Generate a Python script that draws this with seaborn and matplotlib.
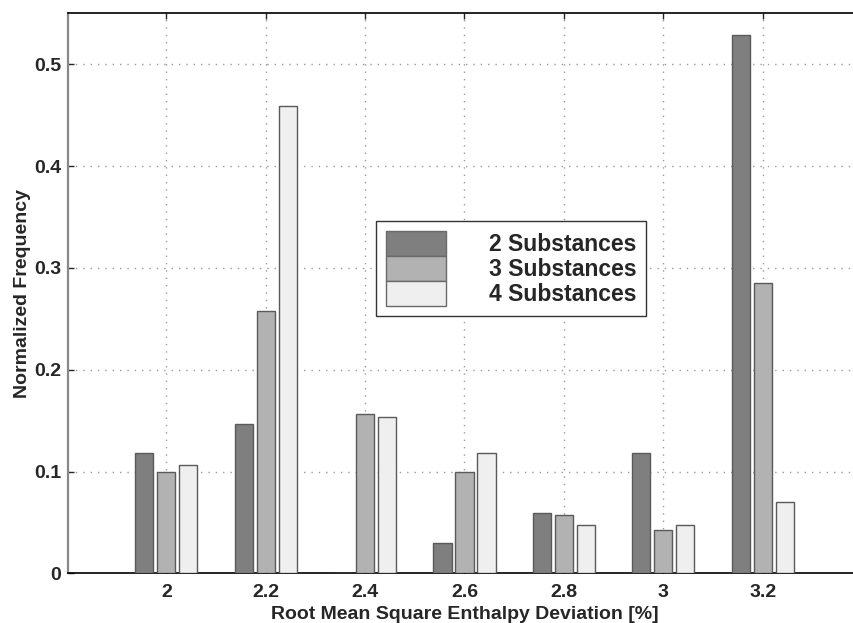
import pandas as pd
import matplotlib
matplotlib.use("Agg")
import matplotlib.pyplot as plt
import seaborn as sns
from matplotlib.patches import Patch

# rms enthalpy deviation bins [%]
deviation = ["2", "2.2", "2.4", "2.6", "2.8", "3", "3.2"]
series = ["2 Substances", "3 Substances", "4 Substances"]

# normalized frequency per bin
two_subst = [0.118, 0.147, 0.0, 0.0295, 0.059, 0.118, 0.529]
three_subst = [0.100, 0.258, 0.1565, 0.100, 0.057, 0.0425, 0.285]
four_subst = [0.106, 0.459, 0.1535, 0.118, 0.047, 0.047, 0.070]

colors = ["#7f7f7f", "#b2b2b2", "#efefef"]


def build_frame():
    rows = []
    for name, vals in zip(series, [two_subst, three_subst, four_subst]):
        for d, v in zip(deviation, vals):
            rows.append({"Deviation": d, "Series": name, "Frequency": v})
    return pd.DataFrame(rows)


def main():
    df = build_frame()

    sns.set_style("white")
    plt.rcParams['font.family'] = ['Liberation Sans', 'DejaVu Sans']
    plt.rcParams['font.weight'] = 'bold'

    fig = plt.figure(figsize=(8.54, 6.23), dpi=100)
    ax = fig.add_axes([68 / 854, 1 - 573.3 / 623, 793 / 854, 560.3 / 623])

    sns.barplot(
        data=df, x="Deviation", y="Frequency", hue="Series",
        order=deviation, hue_order=series, palette=colors,
        width=0.665, gap=0.18, edgecolor="#5a5a5a", linewidth=1.0,
        legend=False, ax=ax, zorder=3
    )

    ax.set_xlim(-0.99, 6.99)
    ax.set_ylim(0, 0.5505)
    ax.set_yticks([0, 0.1, 0.2, 0.3, 0.4, 0.5])
    ax.set_yticklabels(["0", "0.1", "0.2", "0.3", "0.4", "0.5"])
    ax.set_xticks(range(len(deviation)))
    ax.set_xticklabels(deviation)

    ax.grid(True, linestyle=(0, (1, 4.3)), color="#9a9a9a", linewidth=1)
    ax.set_axisbelow(True)

    ax.tick_params(axis="both", direction="in", length=4, width=1,
                   labelsize=14, top=True, left=True, bottom=True, right=False)
    ax.tick_params(axis="x", pad=8)
    ax.tick_params(axis="y", pad=5)

    for s in ["top", "bottom"]:
        ax.spines[s].set_color("black")
        ax.spines[s].set_linewidth(1.2)
    ax.spines["left"].set_color("#888888")
    ax.spines["left"].set_linewidth(1.6)
    ax.spines["right"].set_visible(False)

    ax.set_xlabel("Root Mean Square Enthalpy Deviation [%]", fontsize=14,
                  fontweight="bold", va="center")
    ax.xaxis.set_label_coords(0.5, -41 / 560.3)
    ax.set_ylabel("Normalized Frequency", fontsize=14, fontweight="bold",
                  va="center")
    ax.yaxis.set_label_coords(-45 / 793, 0.5)

    # stacked legend swatches, matlab style
    handles = [Patch(facecolor=c, edgecolor="#6a6a6a", linewidth=1) for c in colors]
    leg = ax.legend(
        handles, series, loc="upper left",
        bbox_to_anchor=(376 / 854, 1 - 221 / 623), bbox_transform=fig.transFigure,
        fontsize=16.5, frameon=True, fancybox=False, shadow=False,
        labelspacing=0, handlelength=2.65, handleheight=1.3,
        handletextpad=1.85, borderpad=0.42, borderaxespad=0
    )
    leg.get_frame().set_edgecolor("#333333")
    leg.get_frame().set_linewidth(1)
    leg.get_frame().set_alpha(1)
    leg.set_zorder(5)

    fig.savefig("out.png", dpi=100)


if __name__ == "__main__":
    main()
